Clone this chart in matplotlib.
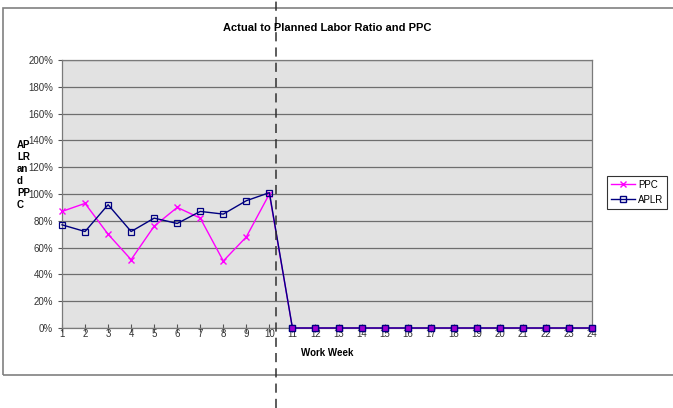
import matplotlib
matplotlib.use("Agg")
import matplotlib.pyplot as plt
from matplotlib.patches import Rectangle
from matplotlib.lines import Line2D
from matplotlib.ticker import PercentFormatter

plt.rcParams['font.family'] = ['Liberation Sans', 'DejaVu Sans']

weeks = list(range(1, 25))
ppc = [87, 93, 70, 51, 76, 90, 82, 50, 68, 100] + [0] * 14
aplr = [77, 72, 92, 72, 82, 78, 87, 85, 95, 101] + [0] * 14

fig = plt.figure(figsize=(6.73, 4.08), dpi=100)
W, H = 673, 408

# outer chart frame
fig.patches.append(Rectangle((3 / W, 1 - 375 / H), 1.0, (375 - 8) / H,
                             transform=fig.transFigure, fill=False,
                             edgecolor='#808080', linewidth=1.2))

ax = fig.add_axes([62 / W, 1 - 328 / H, (592 - 62) / W, (328 - 60) / H])
ax.set_facecolor('#e2e2e2')

ax.plot(weeks, ppc, color='#ff00ff', marker='x', markersize=4, linewidth=1,
        markeredgewidth=1, label='PPC', clip_on=False, zorder=3)
ax.plot(weeks, aplr, color='#000080', marker='s', markersize=5, linewidth=1,
        markerfacecolor='none', markeredgewidth=0.9, label='APLR',
        clip_on=False, zorder=4)
# zero weeks show magenta fill inside the squares
ax.plot(weeks[10:], aplr[10:], linestyle='none', marker='s', markersize=5,
        markerfacecolor='#a000d0', markeredgecolor='#000080',
        markeredgewidth=0.9, clip_on=False, zorder=4)

ax.set_xlim(1, 24)
ax.set_ylim(0, 200)
ax.set_xticks(weeks)
ax.set_yticks(range(0, 201, 20))
ax.yaxis.set_major_formatter(PercentFormatter(decimals=0))
ax.grid(axis='y', color='#6e6e6e', linewidth=0.9)
ax.set_axisbelow(True)
ax.tick_params(axis='x', direction='inout', length=6, labelsize=7, pad=-2,
               width=0.8, color='#555555', labelcolor='#333333')
ax.tick_params(axis='y', direction='out', length=3, labelsize=7, width=0.8,
               color='#555555', labelcolor='#333333')
for s in ax.spines.values():
    s.set_color('#7a7a7a')
    s.set_linewidth(0.9)

fig.text(0.5 * (62 + 592) / W, 1 - 28 / H, 'Actual to Planned Labor Ratio and PPC',
         ha='center', va='center', fontsize=8, fontweight='bold')
fig.text(0.5 * (62 + 592) / W, 1 - 353 / H, 'Work Week',
         ha='center', va='center', fontsize=7, fontweight='bold')
fig.text(17 / W, 1 - 175 / H, 'AP\nLR\nan\nd\nPP\nC', ha='left', va='center',
         fontsize=7, fontweight='bold', linespacing=1.25)

handles = [Line2D([], [], color='#ff00ff', marker='x', markersize=4, linewidth=1),
           Line2D([], [], color='#000080', marker='s', markersize=5,
                  markerfacecolor='none', linewidth=1)]
leg = fig.legend(handles, ['PPC', 'APLR'], loc='upper left',
                 bbox_to_anchor=(607 / W, 1 - 176 / H), fontsize=7,
                 frameon=True, fancybox=False, edgecolor='#000000',
                 handlelength=2.5, borderpad=0.4, labelspacing=0.5,
                 handletextpad=0.3, borderaxespad=0)
leg.get_frame().set_linewidth(0.8)

# dashed separator across the whole figure
fig.add_artist(Line2D([276 / W, 276 / W], [0, 1], transform=fig.transFigure,
                      color='#303030', linestyle=(0, (6, 4)), linewidth=1.1))

fig.savefig('out.png', dpi=100)
